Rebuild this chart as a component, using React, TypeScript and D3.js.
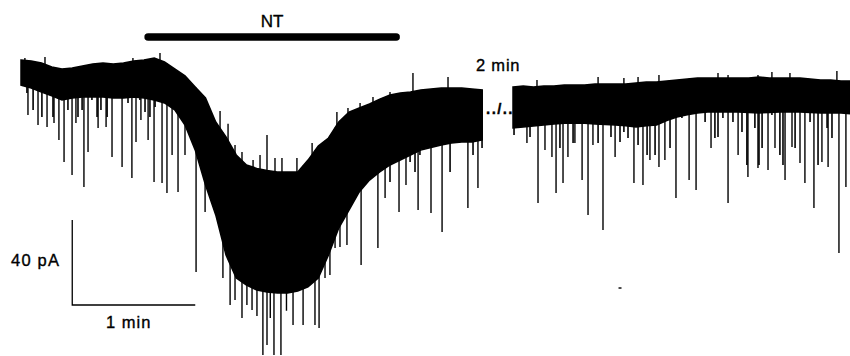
import React from "react";
import * as d3 from "d3";

// ---- Data (time in s, current in pA) ----
const seg1Time = [0, 5, 10, 15, 20, 25, 30, 35, 40, 45, 50, 55, 60, 65, 70, 75, 80, 85, 90, 95, 100, 105, 110, 115, 120, 125, 130, 135, 140, 145, 150, 155, 160, 165, 170, 175, 180, 185, 190, 195, 200, 205, 210, 215, 220, 225];
const seg1Top = [0, -0.5, -1.4, -3.3, -4.2, -3.8, -2.8, -1.9, -1.4, -1.9, -1.4, -0.5, 0, 0.9, -0.9, -4.2, -7.5, -12.7, -17.9, -29.2, -36.2, -44.7, -49.4, -51, -52, -52.7, -52.7, -52.7, -47.1, -40.5, -36.7, -29.2, -24.5, -22.6, -20.7, -18.4, -16.5, -15.5, -15.1, -14.1, -13.6, -13.2, -13.2, -13.2, -13.6, -14.1];
const seg1Bottom = [-11.8, -13.2, -15.1, -16.9, -18.8, -17.9, -17.4, -17.4, -17.4, -17.9, -17.9, -17.4, -17.9, -18.8, -20.2, -23.5, -30.6, -42.4, -58.8, -72.9, -91.8, -102.6, -105.9, -108.2, -109.2, -109.6, -109.6, -108.7, -106.8, -102.6, -91.8, -79.1, -70.6, -62.1, -56.5, -52.7, -49.4, -47.1, -44.7, -42.4, -41.2, -40, -39.1, -38.6, -38.6, -37.6];

const seg2Time = [240, 245, 250, 255, 260, 265, 270, 275, 280, 285, 290, 295, 300, 305, 310, 315, 320, 325, 330, 335, 340, 345, 350, 355, 360, 365, 370, 375, 380, 385, 390, 395, 400, 405];
const seg2Top = [-12.7, -12.2, -12.7, -12.2, -12.2, -11.8, -11.8, -11.8, -11.3, -11.3, -11.3, -11.3, -10.8, -10.4, -10.4, -9.9, -9.4, -8.9, -8.5, -8.5, -8.5, -8.5, -8.5, -8.5, -8, -8.5, -8.5, -8.5, -8.5, -8.9, -9.4, -9.4, -9.9, -9.9];
const seg2Bottom = [-32, -31.5, -31.1, -30.6, -30.1, -29.8, -29.6, -29.8, -30.1, -30.4, -30.6, -31, -31.5, -31, -30.6, -28.5, -26.8, -25.8, -24.9, -24.5, -24.5, -24.5, -24.5, -24.7, -24.9, -24.7, -24.5, -24.5, -24.5, -24.7, -24.9, -24.9, -24.9, -25.4];

// downward events: [time s, peak pA]
const seg1Events: [number, number][] = [
  [3.4, -25.9], [8.3, -30.6], [12.7, -31.5], [16.1, -29.6], [18.5, -37.6], [21, -48], [24.9, -54.1], [26.8, -29.6],
  [30.7, -59.8], [32.7, -43.3], [37.6, -32], [41.5, -31.5], [44.4, -45.6], [49.3, -50.4], [54.1, -55.5], [56.1, -38.6],
  [58.5, -28.2], [62, -37.6], [64.9, -57.4], [68.8, -57.9], [71.2, -62.6], [73.7, -44.7], [76.6, -62.1], [80, -44.7],
  [85.4, -99.8], [89.8, -71.5], [98.5, -102.6], [102, -115.3], [104.4, -112.9], [107.8, -121.4], [110.2, -115.3],
  [112.7, -117.6], [115.1, -120.5], [118, -138.8], [120, -134.1], [121.6, -121.4], [123.4, -138.8], [126.8, -138.8],
  [129.5, -118], [132.7, -124.7], [137.6, -124.7], [143.4, -124.7], [145.4, -126.1], [148.3, -102.6], [150.7, -101.2],
  [153.2, -88.5], [155.6, -88], [159, -87.1], [165.9, -96.5], [174.1, -88.5], [177.6, -64.9], [184.4, -71.5],
  [187.8, -58.8], [193.7, -70.6], [200, -72], [205.4, -80.9], [218, -69.6], [222.9, -60.2],
];
const seg1Fringe: [number, number][] = [
  [2.9, -15.5], [5.9, -23.5], [10.2, -26.8], [15.6, -26.8], [22.9, -23.5], [27.8, -26.8], [29.8, -23.5], [34.6, -18.8],
  [37.1, -26.8], [39, -23.5], [42, -26.8], [52.2, -20.2], [58, -18.8], [60.5, -24.5], [62.9, -26.8], [65.4, -22.1],
  [79, -26.8], [180, -57.4], [189.8, -48], [192.2, -52.7], [194.6, -44.7], [209.3, -52.7], [220.5, -44.7], [224.9, -41.4],
];
const seg2Events: [number, number][] = [
  [246.8, -39.1], [252.2, -67.3], [255.6, -42.4], [259, -45.6], [261, -62.6], [264.4, -57.9], [266.8, -45.6],
  [270.2, -39.1], [273.7, -56.5], [276.6, -72.9], [279, -40], [283.9, -80], [289.8, -45.6], [299, -57.9],
  [303.4, -58.8], [306.8, -47.1], [311.2, -50.4], [314.1, -47.1], [319.5, -64.9], [325.9, -56.5], [329.3, -61.2],
  [336.6, -41.4], [344.9, -67.3], [349.8, -44.7], [354.6, -55.1], [359.5, -50.8], [364.4, -51.8], [367.8, -41.4],
  [372.7, -56.5], [376.1, -40.9], [380, -48.5], [382.4, -57.9], [386.8, -69.6], [390.7, -48], [393.7, -50.4],
  [399, -90.8], [402.4, -59.8],
];
const seg2Fringe: [number, number][] = [
  [240.5, -35.3], [242.9, -32], [248.3, -36.2], [262.9, -41.4], [269.3, -39.1], [281.5, -39.1], [287.8, -36.2],
  [292.2, -38.6], [294.1, -33.9], [296.1, -36.7], [301, -40], [305.4, -44.7], [309.3, -44.7], [316.6, -41.4],
  [322.4, -27.3], [333.7, -29.2], [338.5, -36.7], [340, -36.2], [342.4, -27.3], [347.3, -29.2], [351.7, -33.9],
  [354.1, -49.4], [358, -32], [360, -49.4], [361.5, -41.4], [366.3, -25.9], [370.2, -44.7], [371.7, -49.4],
  [377.6, -41.4], [384.9, -29.2], [388.8, -49.4], [393.2, -32], [395.6, -36.7],
];
// upward noise peaks
const upPeaks: [number, number][] = [
  [1.9, 1], [11.7, 1.4], [54.6, 1], [67.8, 3.3], [97.1, -24], [101, -30], [104.4, -40], [107.8, -43.3],
  [113.2, -47.1], [116.6, -44.7], [120, -35.3], [123.9, -46.1], [127.3, -46.1], [134.6, -46.1], [142, -39.1],
  [154.1, -24.5], [159.5, -22.6], [165.4, -20.2], [171.7, -17.4], [180, -15.1], [191.2, -6.1], [208.3, -8],
  [251.7, -9.4], [281.5, -8], [294.1, -8.5], [301, -8], [311.2, -7.1], [340, -6.1], [344.9, -7.1], [359.5, -7.1],
  [366.3, -5.6], [375.1, -6.1], [398, -5.2],
];

const ntStart = 62;
const ntEnd = 183;
const ntLevel = 10.8;
const scaleBarT = 25;
const scaleBarI = -115.3;
const scaleBarDT = 60;
const scaleBarDI = 40;
const speck: [number, number] = [292.2, -107.3];

const FONT = "'Liberation Sans', Arial, Helvetica, sans-serif";

export default function App() {
  const x = d3.scaleLinear().domain([0, 405]).range([21, 851.25]);
  const y = d3.scaleLinear().domain([0, -40]).range([60, 145]);

  const band = (time: number[], top: number[], bot: number[]) =>
    d3
      .area<number>()
      .x((_, i) => x(time[i]))
      .y0((_, i) => y(bot[i]))
      .y1((_, i) => y(top[i]))(time) || "";

  const interp = (time: number[], vals: number[], t: number) => {
    const i = Math.max(1, Math.min(time.length - 1, d3.bisectLeft(time, t)));
    const f = (t - time[i - 1]) / (time[i] - time[i - 1]);
    return vals[i - 1] + (vals[i] - vals[i - 1]) * f;
  };

  const downLines = (ev: [number, number][], time: number[], top: number[], key: string, w: number) =>
    ev.map(([t, v], i) => (
      <line key={key + i} x1={x(t)} x2={x(t)} y1={y(interp(time, top, t))} y2={y(v)} stroke="#000" strokeWidth={w} />
    ));

  const textStyle = { fontFamily: FONT, fill: "#000", stroke: "#000", strokeWidth: 0.35 };

  return (
    <svg width={850} height={356} style={{ position: "absolute", left: 0, top: 0, background: "#fff" }}>
      <path d={band(seg1Time, seg1Top, seg1Bottom)} fill="#000" stroke="#000" strokeWidth={1.5} />
      <path d={band(seg2Time, seg2Top, seg2Bottom)} fill="#000" stroke="#000" strokeWidth={1.5} />
      {downLines(seg1Fringe, seg1Time, seg1Top, "f1", 1.6)}
      {downLines(seg2Fringe, seg2Time, seg2Top, "f2", 1.6)}
      {downLines(seg1Events, seg1Time, seg1Top, "a", 1.4)}
      {downLines(seg2Events, seg2Time, seg2Top, "b", 1.4)}
      {upPeaks.map(([t, v], i) => {
        const tt = t < 230 ? seg1Time : seg2Time;
        const tp = t < 230 ? seg1Top : seg2Top;
        return <line key={"u" + i} x1={x(t)} x2={x(t)} y1={y(interp(tt, tp, t)) + 4} y2={y(v)} stroke="#000" strokeWidth={1.4} />;
      })}
      {/* NT bar */}
      <line x1={x(ntStart)} x2={x(ntEnd)} y1={y(ntLevel)} y2={y(ntLevel)} stroke="#000" strokeWidth={7.5} strokeLinecap="round" />
      <text x={(x(ntStart) + x(ntEnd)) / 2} y={27} textAnchor="middle" fontSize={17} style={textStyle}>NT</text>
      {/* break */}
      <text x={476} y={71} fontSize={16.5} letterSpacing={0.8} style={textStyle}>2 min</text>
      <text x={500} y={114} textAnchor="middle" fontSize={15} fontWeight="bold" letterSpacing={1.4} style={textStyle}>../..</text>
      {/* scale bars */}
      <path
        d={`M${x(scaleBarT)},${y(scaleBarI + scaleBarDI)}V${y(scaleBarI)}H${x(scaleBarT + scaleBarDT)}`}
        fill="none"
        stroke="#000"
        strokeWidth={1.3}
      />
      <text x={11} y={266} fontSize={16.5} letterSpacing={1.2} style={textStyle}>40 pA</text>
      <text x={106} y={328} fontSize={16.5} letterSpacing={1} style={textStyle}>1 min</text>
      <rect x={x(speck[0]) - 1.5} y={y(speck[1]) - 0.7} width={3} height={1.4} fill="#000" />
    </svg>
  );
}
